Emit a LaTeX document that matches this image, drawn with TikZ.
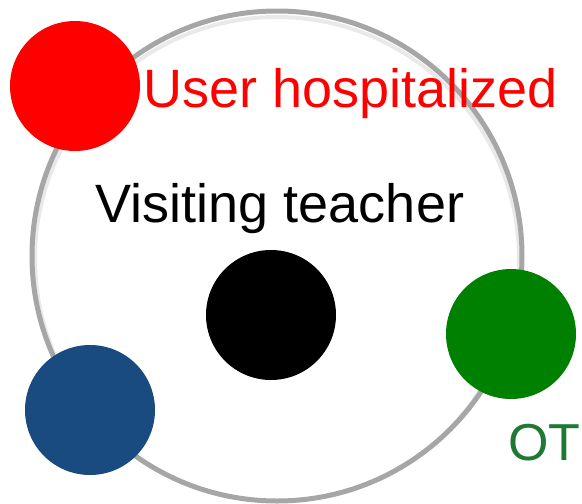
\documentclass[tikz,border=0pt]{standalone}
\usepackage{fontspec}
\setmainfont{Liberation Sans}
\usepackage{tikz}
\usetikzlibrary{shapes}
\pgfdeclarelayer{edgelayer}
\pgfdeclarelayer{nodelayer}
\pgfsetlayers{edgelayer,nodelayer,main}
\tikzstyle{none}=[inner sep=0pt]
\tikzstyle{dot}=[circle, inner sep=0pt, minimum size=130pt, draw=none]
\tikzstyle{big}=[font=\fontsize{54}{54}\selectfont, inner sep=0pt]
\definecolor{ringgray}{rgb}{0.65,0.65,0.65}
\definecolor{dotred}{rgb}{1,0,0}
\definecolor{dotgreen}{rgb}{0,0.5,0}
\definecolor{dotblue}{rgb}{0.10,0.29,0.50}
\definecolor{labelgreen}{rgb}{0.12,0.47,0.2}

\begin{document}
\begin{tikzpicture}[x=1pt, y=-1pt]
	\useasboundingbox (0, 0) rectangle (582, 504);
	\begin{pgfonlayer}{edgelayer}
		\node [style=none, circle, draw=ringgray!25, line width=4pt, minimum size=484pt] (0) at (277, 259) {};
		\node [style=none, circle, draw=ringgray, line width=5pt, minimum size=490pt] (1) at (277, 256) {};
	\end{pgfonlayer}
	\begin{pgfonlayer}{nodelayer}
		\node [style=dot, fill=dotred] (2) at (75, 86) {};
		\node [style=dot, fill=black] (3) at (271, 315) {};
		\node [style=dot, fill=dotgreen] (4) at (511, 334) {};
		\node [style=dot, fill=dotblue] (5) at (90, 410) {};
		\node [style=big, text=dotred, anchor=base west] (6) at (143, 107) {User hospitalized};
		\node [style=big, text=black, anchor=base] (7) at (280, 222) {Visiting teacher};
		\node [style=big, text=labelgreen, anchor=base west, font=\fontsize{52}{52}\selectfont] (8) at (508, 460) {OT};
	\end{pgfonlayer}
\end{tikzpicture}
\end{document}
